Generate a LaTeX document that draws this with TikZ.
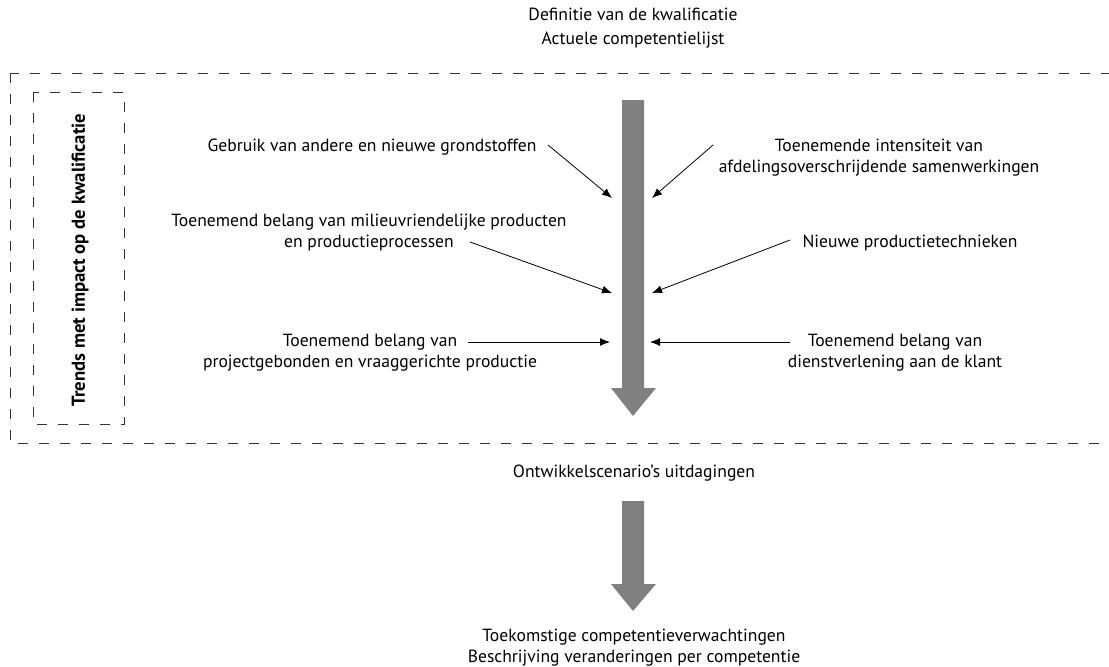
\documentclass[tikz,border=0pt]{standalone}
\usepackage{fontspec}
\setmainfont{PT Sans}
\usetikzlibrary{arrows.meta, positioning}

\begin{document}
\begin{tikzpicture}[x=1pt, y=-1pt, font=\fontsize{17.6}{21}\selectfont,
		txt/.style={align=center, inner sep=0pt},
		pijl/.style={-{Latex[length=10pt,width=8pt]}, line width=0.8pt},
		streep/.style={dash pattern=on 10pt off 11pt, line width=0.9pt, draw=black!80},
		blok/.style={fill=black!50, draw=none}]
		\useasboundingbox (0,0) rectangle (1109,667);
		% kaders
		\draw[streep] (10,73) rectangle (1125,443);
		\draw[streep] (33,92) rectangle (124,424);
		\node[txt, rotate=90, font=\fontsize{18.7}{21}\selectfont\bfseries] (trends) at (80,260) {Trends met impact op de kwalificatie};
		% grote pijlen
		\foreach \top/\hals/\punt in {100/388/416, 501/584/611}
			\fill[blok] (622,\top) -- (644,\top) -- (644,\hals) -- (656,\hals) -- (633,\punt) -- (611,\hals) -- (622,\hals) -- cycle;
		% teksten
		\node[txt] (definitie) at (633,28) {Definitie van de kwalificatie\\[3pt] Actuele competentielijst};
		\node[txt] (gebruik) at (372,147) {Gebruik van andere en nieuwe grondstoffen};
		\node[txt] (milieu) at (369,233) {Toenemend belang van milieuvriendelijke producten\\ en productieprocessen};
		\node[txt] (project) at (370,353) {Toenemend belang van\\ projectgebonden en vraaggerichte productie};
		\node[txt] (intensiteit) at (879,158) {Toenemende intensiteit van\\ afdelingsoverschrijdende samenwerkingen};
		\node[txt] (nieuw) at (910,243) {Nieuwe productietechnieken};
		\node[txt] (dienst) at (895,353) {Toenemend belang van\\ dienstverlening aan de klant};
		\node[txt] (scenario) at (634,473) {Ontwikkelscenario’s uitdagingen};
		\node[txt] (toekomst) at (634,648) {Toekomstige competentieverwachtingen\\ Beschrijving veranderingen per competentie};
		% pijlpunten
		\coordinate (g0) at (548,145); \coordinate (g1) at (612,198);
		\coordinate (m0) at (470,242); \coordinate (m1) at (612,293);
		\coordinate (p0) at (468,342); \coordinate (p1) at (610,342);
		\coordinate (i0) at (713,145); \coordinate (i1) at (652,198);
		\coordinate (n0) at (790,240); \coordinate (n1) at (652,293);
		\coordinate (d0) at (790,342); \coordinate (d1) at (650,342);
		\foreach \from/\to in {g0/g1,m0/m1,p0/p1,i0/i1,n0/n1,d0/d1}
			\draw[pijl] (\from) -- (\to);
	\end{tikzpicture}
\end{document}
